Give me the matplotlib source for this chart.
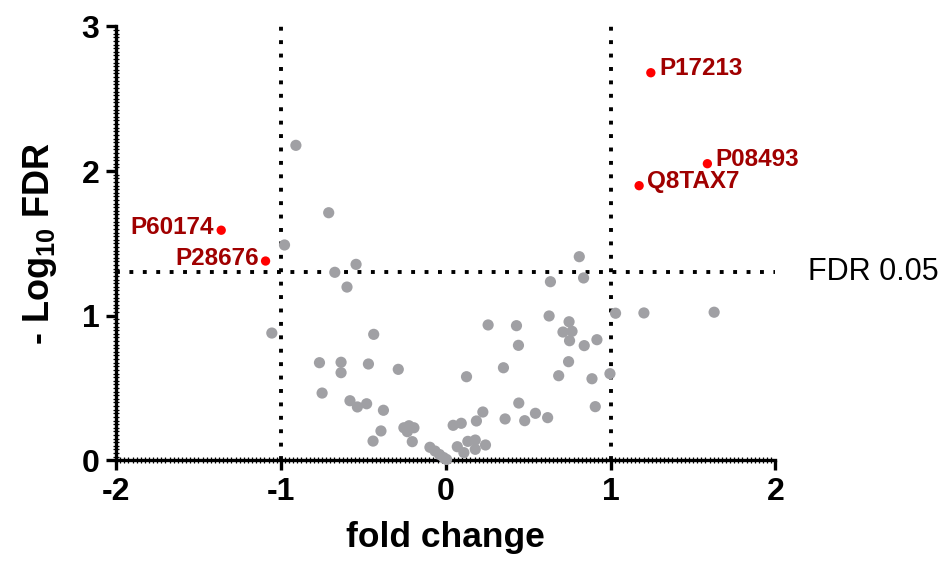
import numpy as np
import matplotlib
matplotlib.use("Agg")
import matplotlib.pyplot as plt
from matplotlib.ticker import MultipleLocator

plt.rcParams['font.family'] = ['Liberation Sans', 'DejaVu Sans']
plt.rcParams['mathtext.fontset'] = 'custom'
plt.rcParams['mathtext.rm'] = 'Liberation Sans:bold'
plt.rcParams['mathtext.it'] = 'Liberation Sans:bold'
plt.rcParams['mathtext.bf'] = 'Liberation Sans:bold'

# proteines non significatives (gris)
gray_fc = [-0.909, -0.710, -0.978, -0.544, -0.673, -0.599, -1.055, -0.437, -0.766, -0.635,
           -0.635, -0.469, -0.288, -0.750, -0.581, -0.536, -0.480, -0.378, -0.393, -0.441,
           -0.254, -0.223, -0.193, -0.233, -0.203, -0.096, -0.065, -0.038, -0.013, 0.005,
           0.045, 0.094, 0.186, 0.225, 0.126, 0.070, 0.110, 0.134, 0.179, 0.179,
           0.241, 0.360, 0.443, 0.479, 0.544, 0.618, 0.907, 0.350, 0.685, 0.887,
           0.996, 0.745, 0.441, 0.257, 0.429, 0.627, 0.748, 0.711, 0.766, 0.751,
           0.840, 0.917, 0.635, 0.836, 0.810, 1.030, 1.202, 1.628]
gray_lfdr = [2.178, 1.712, 1.489, 1.355, 1.300, 1.198, 0.880, 0.871, 0.675, 0.678,
             0.606, 0.666, 0.629, 0.465, 0.412, 0.369, 0.391, 0.346, 0.203, 0.133,
             0.225, 0.239, 0.225, 0.198, 0.129, 0.090, 0.064, 0.040, 0.019, 0.006,
             0.242, 0.256, 0.272, 0.334, 0.578, 0.094, 0.053, 0.131, 0.140, 0.076,
             0.106, 0.286, 0.396, 0.274, 0.325, 0.295, 0.371, 0.640, 0.585, 0.564,
             0.599, 0.682, 0.795, 0.936, 0.931, 0.998, 0.958, 0.887, 0.892, 0.827,
             0.793, 0.834, 1.235, 1.261, 1.408, 1.017, 1.019, 1.024]

# proteines significatives (rouge)
sig_names = ['P17213', 'P08493', 'Q8TAX7', 'P60174', 'P28676']
sig_fc = [1.244, 1.587, 1.173, -1.362, -1.093]
sig_lfdr = [2.680, 2.051, 1.899, 1.591, 1.378]

fdr_seuil = -np.log10(0.05)
fc_seuil = [-1, 1]

fig = plt.figure(figsize=(9.48, 5.63), dpi=100)
ax = fig.add_axes([0.1224, 0.1824, 0.6956, 0.7706])

dots = (0, (1, 2.45))
ax.plot([-2, 2], [fdr_seuil, fdr_seuil], color='black', lw=2.8, ls=dots,
        dash_capstyle='butt', zorder=2, clip_on=False)
for v in fc_seuil:
    ax.plot([v, v], [0, 3], color='black', lw=2.8, ls=dots,
            dash_capstyle='butt', zorder=2, clip_on=False)

ax.scatter(gray_fc, gray_lfdr, s=65, color='#a0a0a4', edgecolors='none',
           zorder=3, clip_on=False)
ax.scatter(sig_fc, sig_lfdr, s=45, color='#ff0000', edgecolors='none',
           zorder=4, clip_on=False)

for nom, xx, yy in zip(sig_names, sig_fc, sig_lfdr):
    if xx > 0:
        ax.annotate(nom, (xx, yy), xytext=(6, 3), textcoords='offset points',
                    ha='left', va='center', color='#a00000', fontsize=17.5,
                    fontweight='bold')
    else:
        ax.annotate(nom, (xx, yy), xytext=(-5, 2), textcoords='offset points',
                    ha='right', va='center', color='#a00000', fontsize=17.5,
                    fontweight='bold')

ax.text(2.197, fdr_seuil, 'FDR 0.05', ha='left', va='center', fontsize=22,
        clip_on=False)

ax.set_xlim(-2, 2)
ax.set_ylim(0, 3)
ax.spines['top'].set_visible(False)
ax.spines['right'].set_visible(False)
for s in ['left', 'bottom']:
    ax.spines[s].set_linewidth(2.4)

ax.xaxis.set_minor_locator(MultipleLocator(0.025))
ax.yaxis.set_minor_locator(MultipleLocator(0.025))
ax.tick_params(which='major', direction='out', length=7, width=2.4,
               labelsize=23, pad=5)
ax.tick_params(which='minor', direction='inout', length=4.5, width=0.9)
ax.set_xticks([-2, -1, 0, 1, 2])
ax.set_xticklabels(['-2', '-1', '0', '1', '2'], fontweight='bold')
ax.set_yticks([0, 1, 2, 3])
ax.set_yticklabels(['0', '1', '2', '3'], fontweight='bold')

ax.set_xlabel('fold change', fontsize=25.5, fontweight='bold', labelpad=10)
ax.set_ylabel(r'- Log$_{10}$ FDR', fontsize=26, fontweight='bold', labelpad=16)

fig.savefig('out.png', dpi=100)
